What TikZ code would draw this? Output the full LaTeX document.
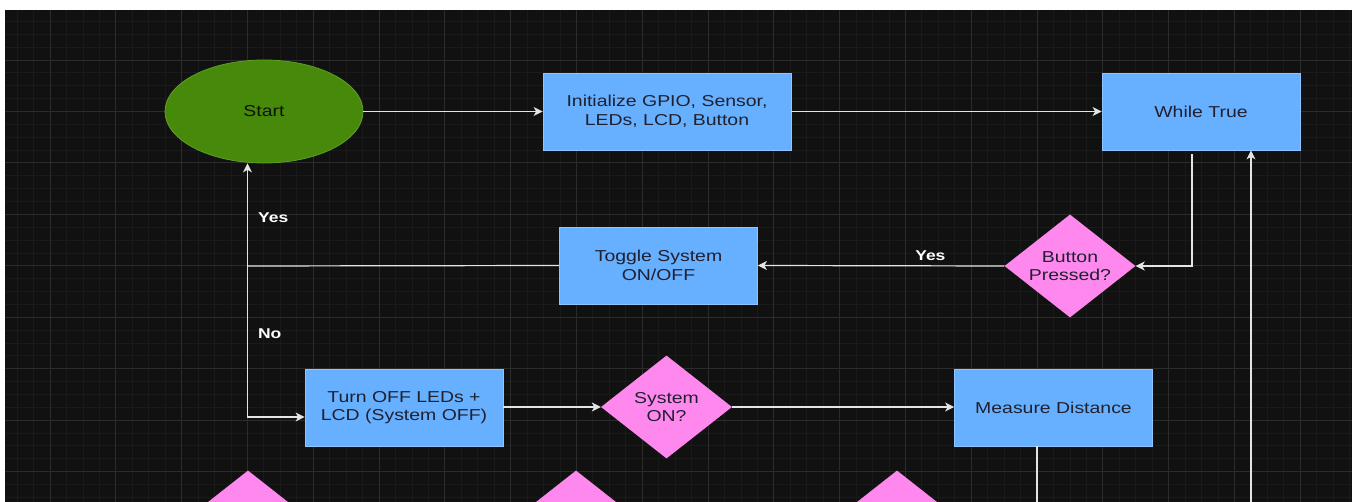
\documentclass[tikz,border=0pt]{standalone}
\usepackage{fontspec}
\setmainfont[FakeStretch=1.23]{Liberation Sans}
\usepackage{xcolor}
\usepackage{tikz}
\usetikzlibrary{shapes.geometric,arrows.meta}

\definecolor{canvas}{HTML}{111111}
\definecolor{gridminor}{HTML}{1A1A1A}
\definecolor{gridmajor}{HTML}{2C2C2C}
\definecolor{boxfill}{HTML}{66B0FF}
\definecolor{boxedge}{HTML}{8EC4FF}
\definecolor{decfill}{HTML}{FF88EE}
\definecolor{startfill}{HTML}{47890A}
\definecolor{startedge}{HTML}{5EA025}
\definecolor{ink}{HTML}{202030}
\definecolor{wire}{HTML}{E4E4E4}

\begin{document}
\begin{tikzpicture}[x=1pt,y=-1pt,
    txt/.style={font=\fontsize{15.8}{18.7}\selectfont, text=ink, align=center},
    box/.style={txt, draw=boxedge, fill=boxfill, line width=0.8pt,
                minimum width=198pt, minimum height=77pt, inner sep=0pt},
    decision/.style={txt, diamond, aspect=1.27, fill=decfill, inner sep=0pt,
                minimum width=131pt, minimum height=103pt},
    startstop/.style={txt, ellipse, draw=startedge, fill=startfill, line width=0.8pt,
                minimum width=198pt, minimum height=103pt, inner sep=0pt, text=black!85!startfill},
    line/.style={draw=wire, line width=1.2pt},
    flow/.style={line, -{Stealth[length=9pt,width=9pt,inset=2.5pt]}},
    lbl/.style={text=white, inner sep=1pt, font=\fontsize{14.2}{16}\bfseries}]

    % Page and dark canvas
    \useasboundingbox (0,0) rectangle (1357,502);
    \fill[white] (0,0) rectangle (1357,502);
    \begin{scope}
    \clip (5,10) rectangle (1352,502);
    \fill[canvas] (5,10) rectangle (1352,502);

    % Grid lines
    \foreach \k in {-4,...,79}
        \draw[gridminor, line width=0.8pt] ({50+16.45*\k},10) -- ++(0,492);
    \foreach \k in {-4,...,34}
        \draw[gridminor, line width=0.8pt] (5,{60+12.8625*\k}) -- ++(1347,0);
    \foreach \k in {0,...,19}
        \draw[gridmajor, line width=0.9pt] ({50+65.8*\k},10) -- ++(0,492);
    \foreach \k in {-1,...,8}
        \draw[gridmajor, line width=0.9pt] (5,{60+51.45*\k}) -- ++(1347,0);

    % Nodes
    \node[startstop] (start) at (264,111.5) {Start};
    \node[box, minimum width=248pt] (init) at (667,111.5) {Initialize GPIO, Sensor,\\LEDs, LCD, Button};
    \node[box] (whiletrue) at (1201,111.5) {While True};
    \node[decision] (button) at (1070,266) {Button\\Pressed?};
    \node[box] (toggle) at (658.5,265.5) {Toggle System\\ON/OFF};
    \node[box] (turnoff) at (404,407.5) {Turn OFF LEDs +\\LCD (System OFF)};
    \node[decision] (syson) at (666.5,407) {System\\ON?};
    \node[box] (measure) at (1053.5,407.5) {Measure Distance};

    % Decisions further down
    \node[decision] (lowa) at (248,522) {};
    \node[decision] (lowb) at (576,522) {};
    \node[decision] (lowc) at (897,522) {};

    % Helper points
    \coordinate (split) at (247.5,266);
    \coordinate (measureout) at (1037,510);
    \coordinate (loopback) at (1251,510);

    % Connectors
    \draw[flow] (start) -- (init);
    \draw[flow] (init) -- (whiletrue);
    \draw[flow] ([xshift=-9pt,yshift=-4pt]whiletrue.south) |- (button.east);
    \draw[flow] (button.west) -- (toggle.east) node[lbl, above=4pt, pos=0.3] {Yes};
    \draw[line] (toggle.west) -- (split);
    \draw[flow] (split) -- (start.south -| split) node[lbl, right=9pt, pos=0.47] {Yes};
    \draw[flow] (split) |- ([yshift=-9.5pt]turnoff.west) node[lbl, right=9pt, pos=0.225] {No};
    \draw[flow] (turnoff.east |- syson) -- (syson.west);
    \draw[flow] (syson.east) -- (measure.west |- syson);
    \draw[line] (measure.south -| measureout) -- (measureout);
    \draw[flow] (loopback) -- (whiletrue.south -| loopback);
    \end{scope}

\end{tikzpicture}
\end{document}
